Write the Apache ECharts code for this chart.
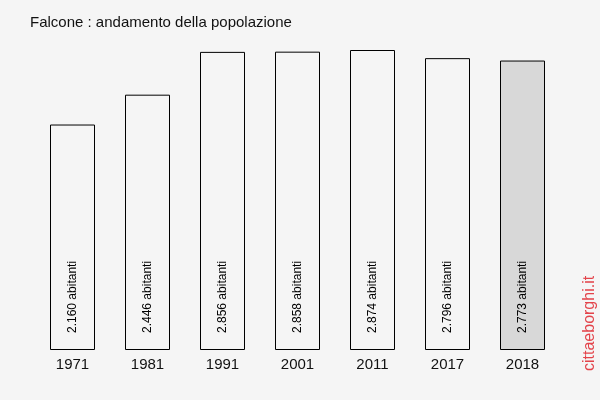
<!DOCTYPE html>
<html><head><meta charset="utf-8">
<script src="https://cdn.jsdelivr.net/npm/echarts@6/dist/echarts.min.js"></script>
<style>html,body{margin:0;padding:0;background:#f5f5f5}#c{width:600px;height:400px}</style>
</head><body><div id="c"></div>
<script>
var years = ['1971','1981','1991','2001','2011','2017','2018'];
var population = [2160, 2446, 2856, 2858, 2874, 2796, 2773];
var chart = echarts.init(document.getElementById('c'), null, {renderer:'canvas'});
var data = population.map(function(v,i){
  return {value:v, itemStyle:{color: i===population.length-1 ? '#d8d8d8' : '#f5f5f5'}};
});
chart.setOption({
  backgroundColor:'#f5f5f5',
  animation:false,
  title:{text:'Falcone : andamento della popolazione', left:25, top:10,
    textStyle:{fontFamily:'Liberation Sans, Arial', fontSize:15, fontWeight:'normal', color:'#111'}},
  grid:{left:35, right:40, top:50, bottom:50},
  xAxis:{type:'category', data:years, axisLine:{show:false}, axisTick:{show:false},
    axisLabel:{fontFamily:'Liberation Sans, Arial', fontSize:15, color:'#111', margin:7}},
  yAxis:{type:'value', min:0, max:2874, show:false, splitLine:{show:false}},
  series:[{type:'bar', data:data, barWidth:45,
    itemStyle:{borderColor:'#000', borderWidth:1},
    label:{show:true, position:'insideBottom', rotate:90, align:'left', verticalAlign:'middle', distance:17,
      fontFamily:'Liberation Sans, Arial', fontSize:12, color:'#000',
      formatter:function(p){return String(p.value).replace(/\B(?=(\d{3})+(?!\d))/g,'.')+' abitanti';}}
  }],
  graphic:[{type:'text', rotation:Math.PI/2, x:582, y:371,
    style:{text:'cittaeborghi.it', font:'16px Liberation Sans, Arial', fill:'#e3434a', textAlign:'left', textVerticalAlign:'top'}}]
});
</script></body></html>
